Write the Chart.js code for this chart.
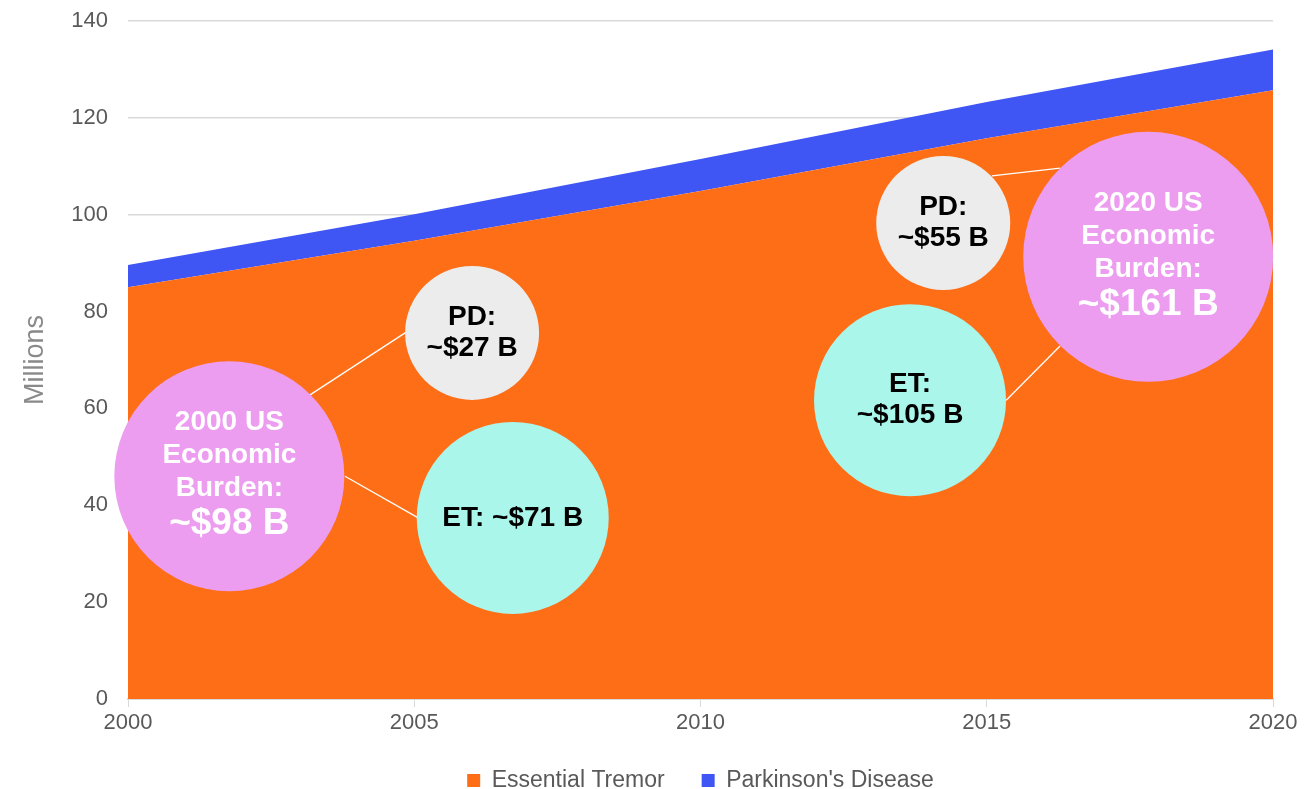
<!DOCTYPE html>
<html>
<head>
<meta charset="utf-8">
<script src="https://cdn.jsdelivr.net/npm/chart.js@4/dist/chart.umd.min.js"></script>
<style>
  html, body { margin: 0; padding: 0; background: #ffffff; }
  #wrap { width: 1309px; height: 789px; }
</style>
</head>
<body>
<div id="wrap"><canvas id="c" width="1309" height="789"></canvas></div>
<script>
// ---- data ----
const years = [2000, 2005, 2010, 2015, 2020];
const essentialTremor = [85, 94.6, 104.9, 115.8, 125.7];
const parkinsons = [4.6, 5.5, 6.6, 7.5, 8.4];
const seriesNames = ["Essential Tremor", "Parkinson's Disease"];
const yTicks = [0, 20, 40, 60, 80, 100, 120, 140];
const xTicks = [2000, 2005, 2010, 2015, 2020];

// bubble annotations (centres in data units: year, millions)
const bubbleLabels = [
  ["2000 US", "Economic", "Burden:", "~$98 B"],
  ["PD:", "~$27 B"],
  ["ET: ~$71 B"],
  ["PD:", "~$55 B"],
  ["ET:", "~$105 B"],
  ["2020 US", "Economic", "Burden:", "~$161 B"]
];
const bubbleX = [2001.77, 2006.01, 2006.72, 2014.24, 2013.66, 2017.82];
const bubbleY = [46.0, 75.6, 37.4, 98.3, 61.7, 91.3];
const bubbleR = [115, 67, 96, 67, 96, 125];
const bubbleKind = ["total", "pd", "et", "pd", "et", "total"];
// connectors: [x1, y1, x2, y2] in data units
const connectors = [
  [2003.18, 62.8, 2004.84, 75.6],
  [2003.79, 46.0, 2005.07, 37.4],
  [2015.09, 108.0, 2016.28, 109.6],
  [2015.34, 61.7, 2016.28, 72.9]
];

const COLORS = {
  et: '#FE6E17',
  pd: '#4056F4',
  totalFill: '#EC9DF0',
  pdFill: '#ECECEC',
  etFill: '#AAF6EA'
};

const bubblePlugin = {
  id: 'bubbles',
  afterDatasetsDraw(chart) {
    const ctx = chart.ctx;
    const xs = chart.scales.x, ys = chart.scales.y;
    ctx.save();
    ctx.strokeStyle = '#ffffff';
    ctx.lineWidth = 1.3;
    connectors.forEach(c => {
      ctx.beginPath();
      ctx.moveTo(xs.getPixelForValue(c[0]), ys.getPixelForValue(c[1]));
      ctx.lineTo(xs.getPixelForValue(c[2]), ys.getPixelForValue(c[3]));
      ctx.stroke();
    });
    bubbleLabels.forEach((lines, i) => {
      const cx = xs.getPixelForValue(bubbleX[i]);
      const cy = ys.getPixelForValue(bubbleY[i]);
      const kind = bubbleKind[i];
      ctx.beginPath();
      ctx.arc(cx, cy, bubbleR[i], 0, Math.PI * 2);
      ctx.fillStyle = kind === 'total' ? COLORS.totalFill : (kind === 'pd' ? COLORS.pdFill : COLORS.etFill);
      ctx.fill();
      ctx.textAlign = 'center';
      ctx.textBaseline = 'middle';
      ctx.fillStyle = kind === 'total' ? '#ffffff' : '#000000';
      if (kind === 'total') {
        const lh = 33;
        const start = cy - 1.5 * lh - 4;
        lines.forEach((t, j) => {
          const big = j === lines.length - 1;
          ctx.font = 'bold ' + (big ? 37 : 28) + 'px "Liberation Sans", Arial, sans-serif';
          ctx.fillText(t, cx, start + j * lh + (big ? 2 : 0));
        });
      } else {
        ctx.font = 'bold 28px "Liberation Sans", Arial, sans-serif';
        const lh = 31;
        const start = cy - (lines.length - 1) * lh / 2;
        lines.forEach((t, j) => ctx.fillText(t, cx, start + j * lh));
      }
    });
    ctx.restore();
  }
};

new Chart(document.getElementById('c'), {
  type: 'line',
  data: {
    labels: years,
    datasets: [
      {
        label: seriesNames[0],
        data: years.map((y, i) => ({x: y, y: essentialTremor[i]})),
        backgroundColor: COLORS.et,
        borderColor: COLORS.et,
        borderWidth: 0,
        fill: 'origin',
        pointRadius: 0,
        tension: 0
      },
      {
        label: seriesNames[1],
        data: years.map((y, i) => ({x: y, y: parkinsons[i]})),
        backgroundColor: COLORS.pd,
        borderColor: COLORS.pd,
        borderWidth: 0,
        fill: '-1',
        pointRadius: 0,
        tension: 0
      }
    ]
  },
  options: {
    responsive: false,
    animation: false,
    events: [],
    layout: { padding: { left: 0, right: 36, top: 21, bottom: -13 } },
    scales: {
      x: {
        type: 'linear',
        min: 2000, max: 2020,
        afterBuildTicks: s => { s.ticks = xTicks.map(v => ({value: v})); },
        afterFit: s => { s.height = 33; },
        ticks: {
          color: '#595959',
          font: { size: 22, family: '"Liberation Sans", Arial, sans-serif' },
          padding: 3,
          maxRotation: 0,
          callback: v => String(v)
        },
        grid: { drawOnChartArea: false, drawTicks: true, tickLength: 8, color: '#d9d9d9', lineWidth: 1 },
        border: { display: true, color: '#d9d9d9', width: 2 }
      },
      y: {
        stacked: true,
        min: 0, max: 140,
        afterBuildTicks: s => { s.ticks = yTicks.map(v => ({value: v})); },
        afterFit: s => { s.width = 128; },
        ticks: {
          color: '#595959',
          font: { size: 22, family: '"Liberation Sans", Arial, sans-serif' },
          padding: 0
        },
        grid: { drawTicks: true, tickLength: 20, tickColor: 'rgba(0,0,0,0)', color: '#d9d9d9', lineWidth: 1.5 },
        border: { display: false },
        title: {
          display: true,
          text: 'Millions',
          color: '#8a8a8a',
          font: { size: 27, family: '"Liberation Sans", Arial, sans-serif' },
          padding: { top: 19, bottom: 0 }
        }
      }
    },
    plugins: {
      legend: {
        position: 'bottom',
        fullSize: false,
        labels: {
          color: '#595959',
          font: { size: 23, family: '"Liberation Sans", Arial, sans-serif' },
          boxWidth: 13,
          boxHeight: 13,
          padding: 37
        }
      },
      tooltip: { enabled: false },
      title: { display: false }
    }
  },
  plugins: [bubblePlugin]
});
</script>
</body>
</html>
